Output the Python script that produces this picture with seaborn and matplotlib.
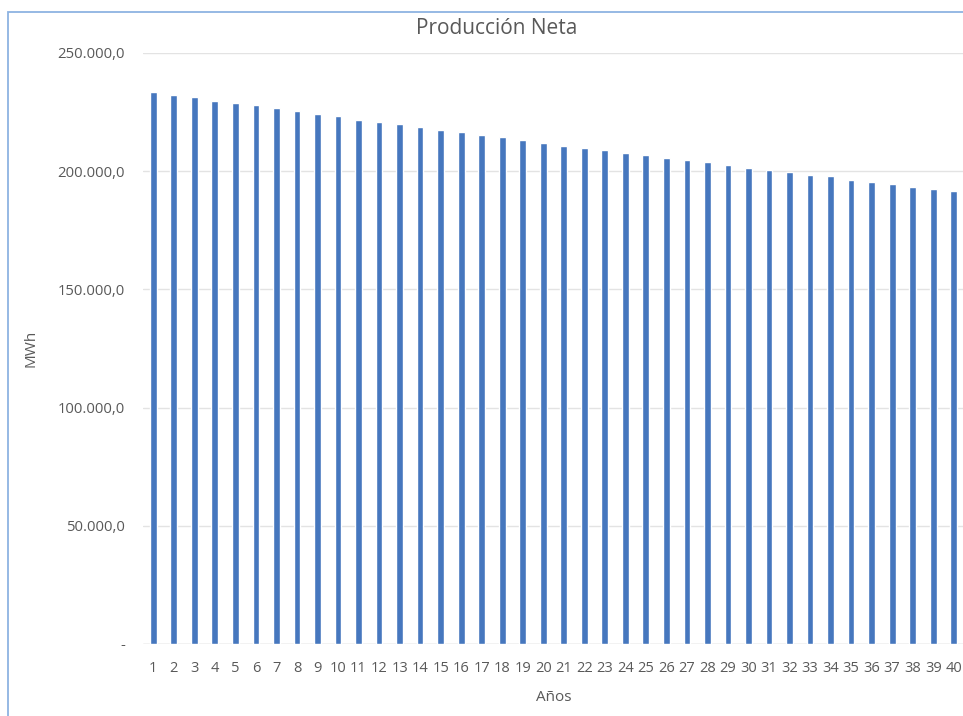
import matplotlib
matplotlib.use("Agg")
import matplotlib.pyplot as plt
from matplotlib.patches import Rectangle
from matplotlib.ticker import FixedLocator, FuncFormatter
import seaborn as sns
import pandas as pd

# Net annual production over the plant's 40-year life (MWh)
years = list(range(1, 41))
production_mwh = [
    233590, 232320, 231210, 229650, 228930, 227820, 226550, 225410, 224270, 223160,
    221730, 220880, 220030, 218500, 217360, 216640, 215110, 214260, 213120, 211980,
    210870, 209860, 209010, 207740, 206770, 205790, 204790, 203930, 202530, 201550,
    200540, 199860, 198590, 197870, 196470, 195450, 194480, 193500, 192660, 191640,
]
y_ticks = [0, 50000, 100000, 150000, 200000, 250000]

title = "Producción Neta"
x_label = "Años"
y_label = "MWh"

df = pd.DataFrame({"Año": [str(y) for y in years], "MWh": production_mwh})

sns.set_theme(style="white")
plt.rcParams["font.family"] = ["Open Sans", "DejaVu Sans"]

fig = plt.figure(figsize=(9.63, 7.16), dpi=100)
ax = fig.add_axes([143 / 963, 1 - 644 / 716, (964 - 143) / 963, (644 - 53) / 716])

sns.barplot(data=df, x="Año", y="MWh", color="#4677BE", saturation=1,
            width=0.33, ax=ax, zorder=3)

ax.set_ylim(0, 250000)
ax.set_xlim(-0.5, len(years) - 0.5)
ax.yaxis.set_major_locator(FixedLocator(y_ticks))


def es_format(v, _pos):
    if v == 0:
        return "-"
    s = f"{v:,.1f}"
    return s.replace(",", "X").replace(".", ",").replace("X", ".")


ax.yaxis.set_major_formatter(FuncFormatter(es_format))
ax.grid(axis="y", color="#E3E3E3", linewidth=1.0, zorder=0)
ax.axhline(0, color="#D9D9D9", linewidth=1.0, zorder=2)
for side in ["top", "right", "left", "bottom"]:
    ax.spines[side].set_visible(False)

ax.tick_params(axis="y", length=0, pad=13, labelsize=10.7, labelcolor="#595959")
ax.tick_params(axis="x", length=0, pad=12, labelsize=10.5, labelcolor="#595959")

ax.set_xlabel(x_label, fontsize=11, color="#595959", labelpad=10)
ax.set_ylabel(y_label, fontsize=11, color="#595959")
ax.yaxis.set_label_coords((38 - 143) / 821, 0.5)

fig.text(497 / 963, 1 - 29 / 716, title, ha="center", va="center",
         fontsize=15, color="#595959")

# Chart-area frame
fig.patches.append(Rectangle((8 / 963, -0.01), 1.02, 1 - 12 / 716 + 0.01,
                             transform=fig.transFigure, fill=False,
                             edgecolor="#8DB3E2", linewidth=1.3))

fig.savefig("out.png", dpi=100)
